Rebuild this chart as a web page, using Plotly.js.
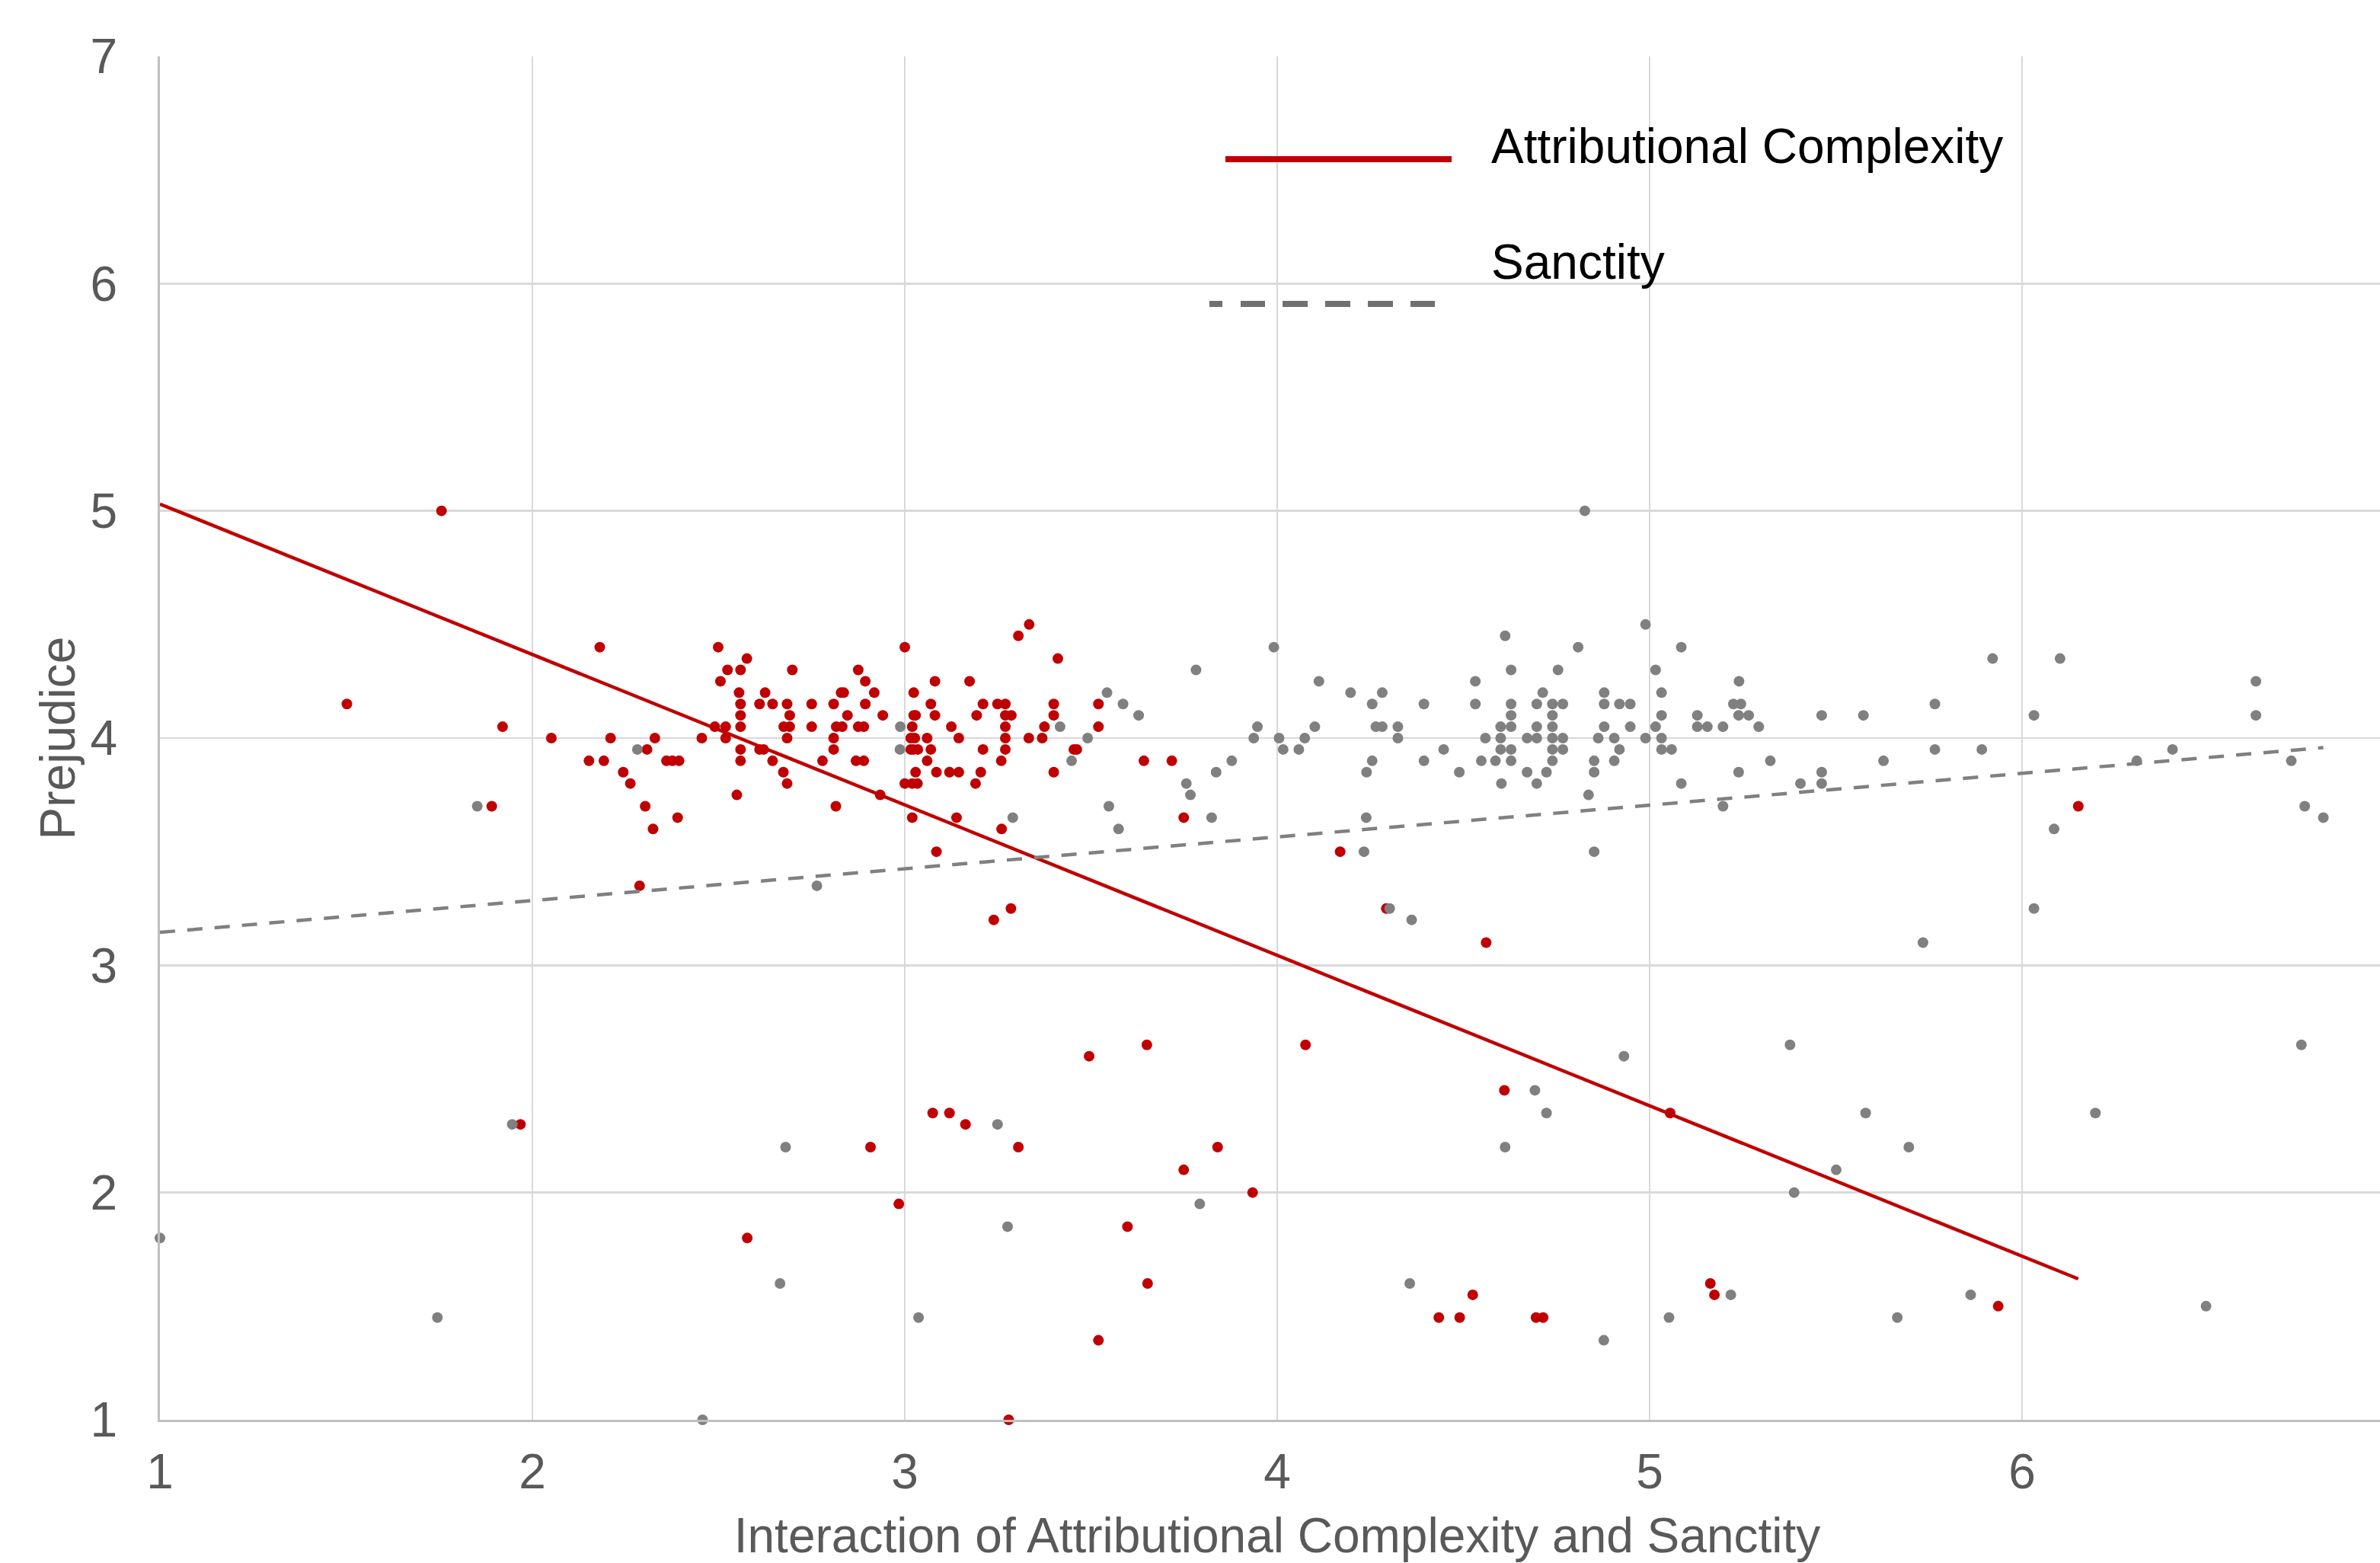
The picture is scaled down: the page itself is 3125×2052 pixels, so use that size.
<!DOCTYPE html>
<html>
<head>
<meta charset="utf-8">
<script src="https://cdn.plot.ly/plotly-3.0.1.min.js"></script>
<style>
html,body{margin:0;padding:0;overflow:hidden;background:#fff;width:3125px;height:2052px}
#chart{width:3144px;height:2052px}
</style>
</head>
<body>
<div id="chart"></div>
<script>
// ---- Data ----
// Prejudice levels (y) and the x values of the points found at each level.
const redLevels = [5.0, 4.5, 4.45, 4.4, 4.35, 4.3, 4.25, 4.2, 4.15, 4.1, 4.05, 4.0, 3.95, 3.9, 3.85, 3.8, 3.75, 3.7, 3.65, 3.6, 3.5, 3.35, 3.25, 3.2, 3.1, 2.65, 2.6, 2.45, 2.35, 2.3, 2.2, 2.1, 2.0, 1.95, 1.85, 1.8, 1.6, 1.55, 1.5, 1.45, 1.35, 1.0];
const redXByLevel = [
  [1.756],
  [3.334],
  [3.305],
  [2.181, 2.499, 3.000],
  [2.576, 3.411],
  [2.524, 2.559, 2.698, 2.875],
  [2.505, 2.894, 3.081, 3.174],
  [2.555, 2.625, 2.829, 2.836, 2.918, 3.024],
  [1.502, 2.559, 2.610, 2.645, 2.684, 2.750, 2.809, 2.894, 3.070, 3.210, 3.249, 3.270, 3.400, 3.520],
  [2.559, 2.691, 2.846, 2.941, 3.024, 3.029, 3.081, 3.193, 3.270, 3.286, 3.400],
  [1.920, 2.490, 2.519, 2.559, 2.675, 2.691, 2.750, 2.816, 2.832, 2.875, 2.890, 3.020, 3.125, 3.270, 3.375, 3.520],
  [2.051, 2.210, 2.329, 2.455, 2.519, 2.684, 2.809, 3.016, 3.027, 3.060, 3.145, 3.270, 3.333, 3.369],
  [2.308, 2.559, 2.610, 2.621, 2.809, 3.016, 3.023, 3.035, 3.070, 3.210, 3.270, 3.454, 3.462],
  [2.152, 2.192, 2.360, 2.376, 2.394, 2.559, 2.645, 2.779, 2.869, 2.890, 3.060, 3.259, 3.642, 3.717],
  [2.244, 2.674, 3.029, 3.085, 3.120, 3.145, 3.204, 3.400],
  [2.263, 2.684, 3.000, 3.020, 3.034, 3.190],
  [2.549, 2.934],
  [1.891, 2.303, 2.815, 6.151],
  [2.390, 3.020, 3.139, 3.749],
  [2.324, 3.260],
  [3.085, 4.169],
  [2.288],
  [3.285, 4.293],
  [3.239],
  [4.561],
  [3.650, 4.076],
  [3.495],
  [4.610],
  [3.075, 3.120, 5.055],
  [1.968, 3.163],
  [2.908, 3.305, 3.840],
  [3.749],
  [3.934],
  [2.984],
  [3.598],
  [2.577],
  [3.652, 5.163],
  [4.525, 5.174],
  [5.936],
  [4.434, 4.490, 4.695, 4.714],
  [3.520],
  [3.279]
];

const greyLevels = [5.0, 4.5, 4.45, 4.4, 4.35, 4.3, 4.25, 4.2, 4.15, 4.1, 4.05, 4.0, 3.95, 3.9, 3.85, 3.8, 3.75, 3.7, 3.65, 3.6, 3.5, 3.35, 3.25, 3.2, 3.1, 2.65, 2.6, 2.45, 2.35, 2.3, 2.2, 2.1, 2.0, 1.95, 1.85, 1.8, 1.6, 1.55, 1.5, 1.45, 1.35, 1.0];
const greyXByLevel = [
  [4.826],
  [4.989],
  [4.612],
  [3.991, 4.808, 5.085],
  [5.921, 6.102],
  [3.782, 4.628, 4.754, 5.016],
  [4.112, 4.532, 5.240, 6.628],
  [3.543, 4.197, 4.282, 4.713, 4.878, 5.032],
  [3.586, 4.255, 4.394, 4.532, 4.628, 4.697, 4.739, 4.767, 4.878, 4.919, 4.948, 5.225, 5.245, 5.766],
  [3.628, 4.628, 4.739, 5.032, 5.128, 5.239, 5.266, 5.462, 5.574, 6.032, 6.628],
  [2.988, 3.417, 3.947, 4.101, 4.265, 4.282, 4.324, 4.600, 4.628, 4.697, 4.739, 4.878, 4.948, 5.016, 5.128, 5.155, 5.197, 5.293],
  [3.491, 3.937, 4.005, 4.074, 4.324, 4.559, 4.600, 4.671, 4.697, 4.739, 4.767, 4.862, 4.905, 4.989, 5.032],
  [2.282, 2.987, 4.016, 4.058, 4.447, 4.600, 4.628, 4.739, 4.767, 4.919, 5.032, 5.059, 5.766, 5.892, 6.404],
  [3.448, 3.878, 4.255, 4.394, 4.548, 4.586, 4.628, 4.739, 4.851, 4.905, 5.324, 5.628, 6.308, 6.723],
  [3.836, 4.240, 4.489, 4.671, 4.723, 4.851, 5.239, 5.462],
  [3.756, 4.602, 4.697, 5.085, 5.405, 5.462],
  [3.767, 4.836],
  [1.852, 3.548, 5.197, 6.759],
  [3.290, 3.824, 4.239, 6.809],
  [3.574, 6.086],
  [4.233, 4.851],
  [2.764],
  [4.302, 6.032],
  [4.361],
  [5.734],
  [5.377, 6.750],
  [4.931],
  [4.692],
  [4.723, 5.580, 6.197],
  [1.946, 3.249],
  [2.680, 4.612, 5.696],
  [5.501],
  [5.388],
  [3.792],
  [3.276],
  [1.000],
  [2.665, 4.356],
  [5.218, 5.862],
  [6.494],
  [1.745, 3.037, 5.052, 5.665],
  [4.877],
  [2.457]
];

// Fitted trend lines (end points)
const acTrendX = [1.0, 6.151];
const acTrendY = [5.03, 1.62];
const sanTrendX = [1.0, 6.809];
const sanTrendY = [3.145, 3.958];

// Labels
const seriesNames = ['Attributional Complexity', 'Sanctity'];
const xTitle = 'Interaction of Attributional Complexity and Sanctity';
const yTitle = 'Prejudice';

// ---- Build flat point lists ----
function flatten(levels, xs) {
  const X = [], Y = [];
  levels.forEach((lv, i) => xs[i].forEach(x => { X.push(x); Y.push(lv); }));
  return {X, Y};
}
const red = flatten(redLevels, redXByLevel);
const grey = flatten(greyLevels, greyXByLevel);

const RED = '#C00000', GREY = '#808080';
const FONT = 'Liberation Sans, Arial, Helvetica, sans-serif';

const traces = [
  {type: 'scatter', mode: 'markers', name: seriesNames[0] + ' points', x: red.X, y: red.Y, cliponaxis: false,
   marker: {color: RED, size: 14, line: {width: 0}}, showlegend: false, hoverinfo: 'skip'},
  {type: 'scatter', mode: 'markers', name: seriesNames[1] + ' points', x: grey.X, y: grey.Y, cliponaxis: false,
   marker: {color: GREY, size: 14, line: {width: 0}}, showlegend: false, hoverinfo: 'skip'},
  {type: 'scatter', mode: 'lines', name: seriesNames[0], x: acTrendX, y: acTrendY,
   line: {color: RED, width: 4.5}, showlegend: false, hoverinfo: 'skip'},
  {type: 'scatter', mode: 'lines', name: seriesNames[1], x: sanTrendX, y: sanTrendY,
   line: {color: GREY, width: 4.5, dash: '20px,16px'}, showlegend: false, hoverinfo: 'skip'}
];

// Plot area: x from 210px to 3144px, y from 74px to 1864px
const L = 210, PW = 2934, T = 74, PH = 1790;
const px2x = p => (p - L) / PW;
const px2y = p => (T + PH - p) / PH;

const layout = {
  width: 3144, height: 2052,
  margin: {l: L, r: 0, t: T, b: 2052 - T - PH, pad: 0},
  paper_bgcolor: '#ffffff', plot_bgcolor: '#ffffff',
  showlegend: false,
  font: {family: FONT, size: 64, color: '#595959'},
  xaxis: {
    range: [1, 7], tick0: 1, dtick: 1, ticks: '',
    showgrid: true, gridcolor: '#d9d9d9', gridwidth: 2.5,
    showline: true, linecolor: '#bfbfbf', linewidth: 3,
    zeroline: false, automargin: false, ticklabelstandoff: 10,
    tickfont: {family: FONT, size: 64, color: '#595959'},
    title: {text: xTitle, font: {family: FONT, size: 64, color: '#595959'}, standoff: 48}
  },
  yaxis: {
    range: [1, 7], tick0: 1, dtick: 1, ticks: '',
    showgrid: true, gridcolor: '#d9d9d9', gridwidth: 2.5,
    showline: true, linecolor: '#bfbfbf', linewidth: 3,
    zeroline: false, automargin: false, ticklabelstandoff: 40,
    tickfont: {family: FONT, size: 64, color: '#595959'},
    title: {text: yTitle, font: {family: FONT, size: 64, color: '#595959'}, standoff: 0}
  },
  shapes: [
    {type: 'line', xref: 'paper', yref: 'paper', x0: px2x(1609), x1: px2x(1906), y0: px2y(209), y1: px2y(209),
     line: {color: RED, width: 8}},
    {type: 'line', xref: 'paper', yref: 'paper', x0: px2x(1588), x1: px2x(1884), y0: px2y(399), y1: px2y(399),
     line: {color: '#707070', width: 8, dash: '17px,24px,32px,23px,33px,23px,33px,23px,33px,23px,32px,200px'}}
  ],
  annotations: [
    {xref: 'paper', yref: 'paper', x: px2x(1956), y: px2y(191.5), xanchor: 'left', yanchor: 'middle',
     text: seriesNames[0], showarrow: false, font: {family: FONT, size: 64, color: '#000000'}},
    {xref: 'paper', yref: 'paper', x: px2x(1956), y: px2y(343.5), xanchor: 'left', yanchor: 'middle',
     text: seriesNames[1], showarrow: false, font: {family: FONT, size: 64, color: '#000000'}}
  ]
};

Plotly.newPlot('chart', traces, layout, {displayModeBar: false, staticPlot: true});
</script>
</body>
</html>
